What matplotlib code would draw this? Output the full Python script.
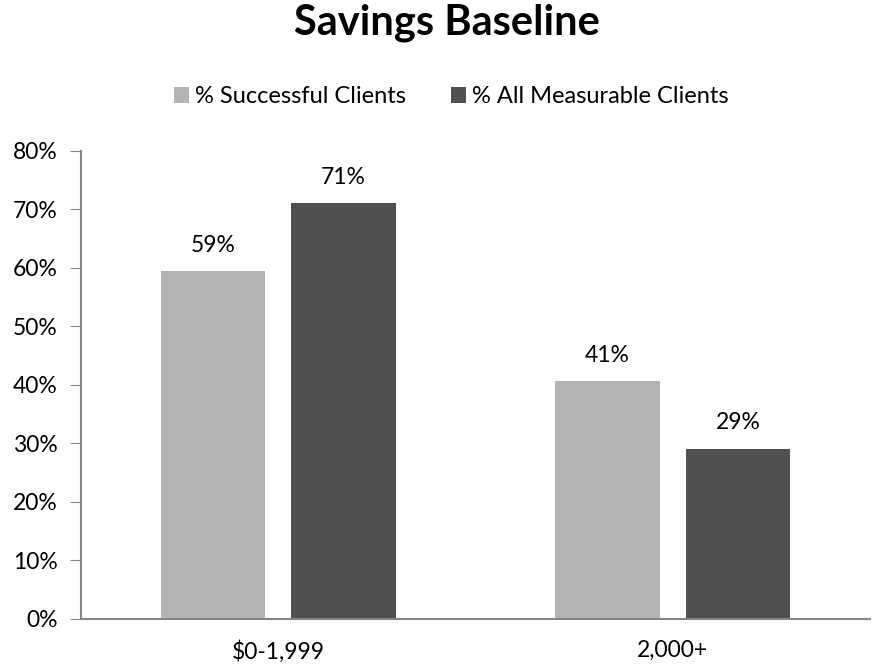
import matplotlib.pyplot as plt
import numpy as np

plt.rcParams['font.family'] = ['Lato', 'DejaVu Sans']

categories = ['$0-1,999', '2,000+']
successful = [59.4, 40.6]
all_measurable = [71.0, 29.0]
series_names = ['% Successful Clients', '% All Measurable Clients']
colors = ['#b3b3b3', '#505050']

fig = plt.figure(figsize=(8.76, 6.66), dpi=100)
ax = fig.add_axes([0.0925, 0.0706, 0.9005, 0.703])

x = np.arange(len(categories))
w = 0.265
off = 0.1655
b1 = ax.bar(x - off, successful, w, color=colors[0], label=series_names[0])
b2 = ax.bar(x + off, all_measurable, w, color=colors[1], label=series_names[1])

for bars in (b1, b2):
    for r in bars:
        ax.text(r.get_x() + r.get_width() / 2, r.get_height() + 4.5,
                f'{r.get_height():.0f}%', ha='center', va='center', fontsize=16.5)

ax.set_xlim(-0.5, 1.5)
ax.set_ylim(0, 80)
ax.set_yticks(range(0, 81, 10))
ax.set_yticklabels([f'{v}%' for v in range(0, 81, 10)])
ax.set_xticks(x)
ax.set_xticklabels(categories)
ax.tick_params(axis='y', labelsize=16.5, length=8, color='#868686', direction='out', pad=9)
ax.tick_params(axis='x', labelsize=16.5, length=0, pad=15)
for s in ['top', 'right']:
    ax.spines[s].set_visible(False)
for s in ['left', 'bottom']:
    ax.spines[s].set_color('#868686')
    ax.spines[s].set_linewidth(1.5)

fig.text(0.51, 0.948, 'Savings Baseline', ha='center', va='baseline',
         fontsize=30, fontweight='bold')
fig.legend(handles=[b1, b2], loc='center', bbox_to_anchor=(0.515, 0.855), ncol=2,
           frameon=False, fontsize=17, handlelength=0.65, handleheight=0.65,
           handletextpad=0.25, columnspacing=1.9)

fig.savefig('out.png', dpi=100)
